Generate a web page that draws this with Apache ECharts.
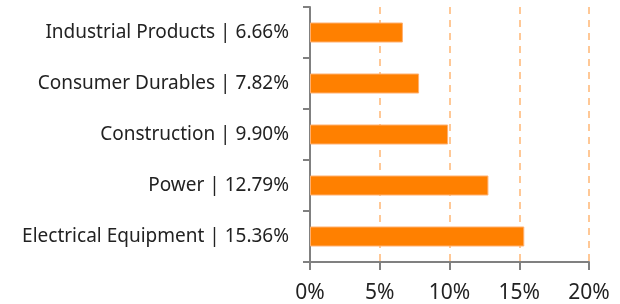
<!DOCTYPE html>
<html><head><meta charset="utf-8">
<script src="https://cdn.jsdelivr.net/npm/echarts@6/dist/echarts.min.js"></script>
<style>html,body{margin:0;padding:0;background:#fff}#c{width:620px;height:304px}</style>
</head><body><div id="c"></div>
<script>
const categories = ["Industrial Products", "Consumer Durables", "Construction", "Power", "Electrical Equipment"];
const values = [6.66, 7.82, 9.90, 12.79, 15.36];
const xTicks = [0, 5, 10, 15, 20];

const chart = echarts.init(document.getElementById('c'), null, {renderer: 'canvas'});
const labels = categories.map((c, i) => c + ' | ' + values[i].toFixed(2) + '%');
chart.setOption({
  animation: false,
  grid: {left: 310, right: 31, top: 7, bottom: 40},
  xAxis: {
    type: 'value', min: xTicks[0], max: xTicks[xTicks.length - 1], interval: 5,
    axisLine: {show: true, lineStyle: {color: '#808080', width: 2}},
    axisTick: {show: true, length: 8, lineStyle: {color: '#808080', width: 2}},
    axisLabel: {formatter: v => v + '%', fontFamily: 'Noto Sans', fontSize: 21, color: '#222', margin: 21},
    splitLine: {show: true, lineStyle: {color: '#FFC896', type: [7, 6], width: 2}}
  },
  yAxis: {
    type: 'category', inverse: true, data: labels,
    axisLine: {show: true, lineStyle: {color: '#808080', width: 2}},
    axisTick: {show: true, length: 7, lineStyle: {color: '#808080', width: 2}},
    axisLabel: {fontFamily: 'Noto Sans', fontSize: 19, color: '#222', margin: 21, padding: [5, 0, 0, 0]}
  },
  series: [{
    type: 'bar', data: values, barWidth: 20,
    itemStyle: {color: '#FF8000', borderColor: '#FFB070', borderWidth: 1}
  }]
});
</script></body></html>
